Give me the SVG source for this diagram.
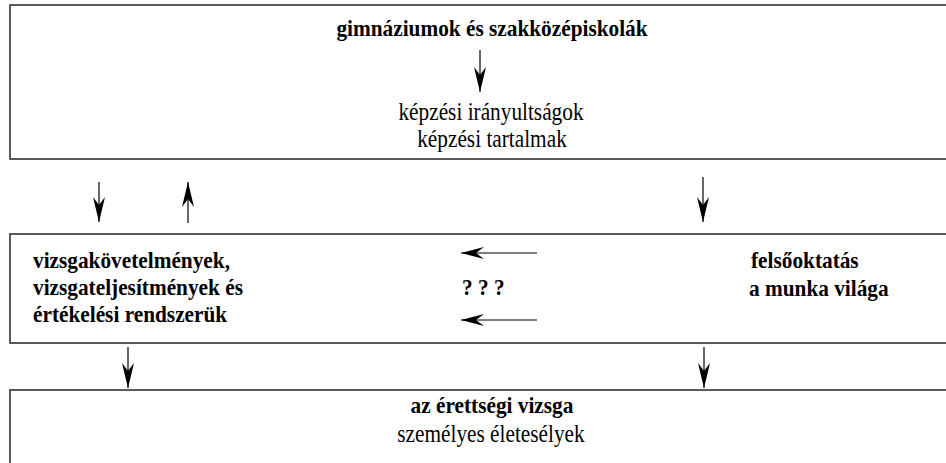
<svg xmlns="http://www.w3.org/2000/svg" width="946" height="463" viewBox="0 0 946 463">
<style>
.box{fill:#fff;stroke:#333;stroke-width:1.6}
.t{font-family:'Liberation Serif','Times New Roman',serif;font-size:21.3px;fill:#000}
.b{font-weight:bold}
.c{text-anchor:middle}
.ln{stroke:#000;stroke-width:1.2;fill:none}
</style>
<defs>
<marker id="ahh" viewBox="0 0 23 12" refX="23" refY="6" markerWidth="23" markerHeight="12" markerUnits="userSpaceOnUse" orient="auto">
<path d="M0,0 L23,6 L0,12 L8,6 Z" fill="#000"/>
</marker>
<marker id="ahv" viewBox="0 0 25 12" refX="25" refY="6" markerWidth="25" markerHeight="12" markerUnits="userSpaceOnUse" orient="auto">
<path d="M0,0 L25,6 L0,12 L8,6 Z" fill="#000"/>
</marker>
</defs>
<g id="top">
<rect class="box" x="10" y="5" width="950" height="154"/>
<text class="t b c" transform="translate(492,36) scale(1,1.12)">gimnáziumok és szakközépiskolák</text>
<text class="t c" transform="translate(491,120) scale(1,1.2)">képzési irányultságok</text>
<text class="t c" transform="translate(492,147) scale(1,1.2)">képzési tartalmak</text>
</g>
<g id="middle">
<rect class="box" x="10" y="234" width="950" height="109"/>
<text class="t b" transform="translate(33,268) scale(1,1.12)">vizsgakövetelmények,</text>
<text class="t b" transform="translate(33,295) scale(1,1.12)">vizsgateljesítmények és</text>
<text class="t b" transform="translate(33,322) scale(1,1.12)">értékelési rendszerük</text>
<text class="t b" transform="translate(462,295) scale(1,1.12)">? ? ?</text>
<text class="t b" transform="translate(751,268) scale(1,1.12)">felsőoktatás</text>
<text class="t b" transform="translate(749,296) scale(1,1.12)">a munka világa</text>
</g>
<g id="bottom">
<rect class="box" x="10" y="390" width="950" height="90"/>
<text class="t b c" transform="translate(492,413) scale(1,1.12)">az érettségi vizsga</text>
<text class="t c" transform="translate(491,442) scale(1,1.2)">személyes életesélyek</text>
</g>
<g id="connectors">
<line class="ln" x1="480" y1="50" x2="480" y2="92" marker-end="url(#ahv)"/>
<line class="ln" x1="99" y1="182" x2="99" y2="222" marker-end="url(#ahv)"/>
<line class="ln" x1="188" y1="223" x2="188" y2="182" marker-end="url(#ahv)"/>
<line class="ln" x1="703" y1="177" x2="703" y2="222" marker-end="url(#ahv)"/>
<line class="ln" x1="537" y1="253" x2="461" y2="253" marker-end="url(#ahh)"/>
<line class="ln" x1="537" y1="320" x2="461" y2="320" marker-end="url(#ahh)"/>
<line class="ln" x1="128" y1="347" x2="128" y2="388" marker-end="url(#ahv)"/>
<line class="ln" x1="704" y1="347" x2="704" y2="388" marker-end="url(#ahv)"/>
</g>
</svg>
